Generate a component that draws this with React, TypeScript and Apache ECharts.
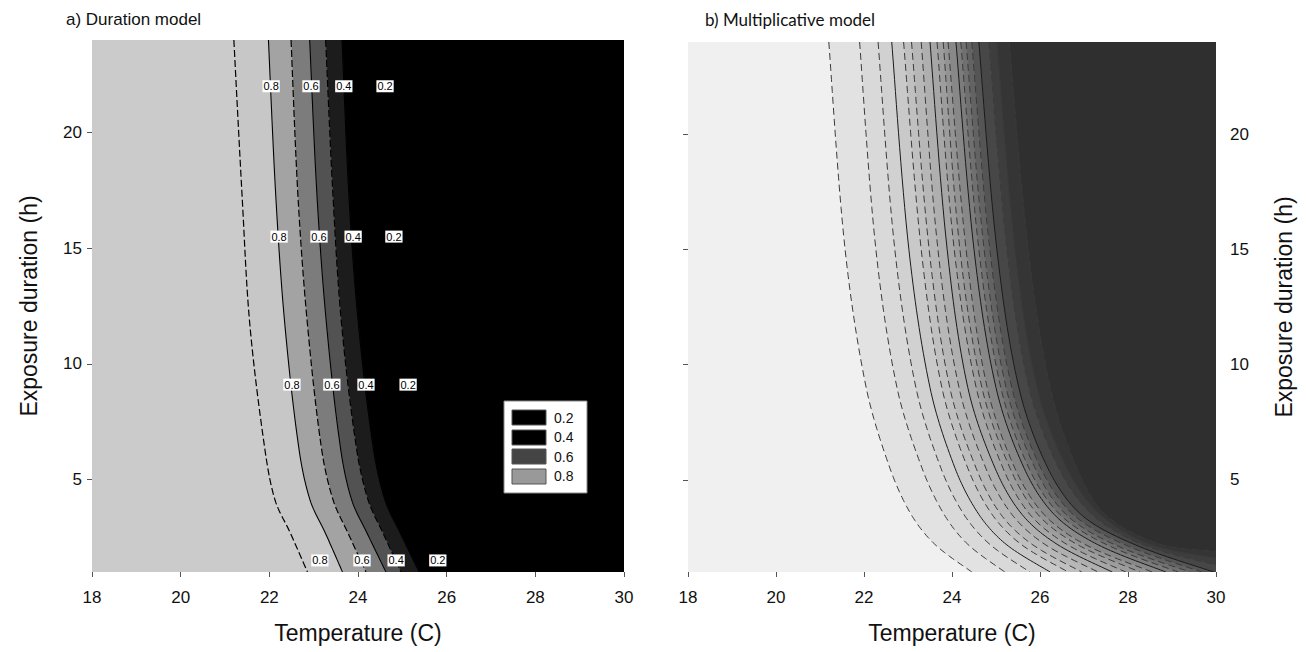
import React, { useEffect, useRef } from "react";
import * as echarts from "echarts";

// ---------- Panel a) Duration model ----------
const hoursA = [24, 17.1, 11.7, 6.3, 4.1, 2.7, 1];
const levelsA = [0.2, 0.3, 0.4, 0.5, 0.6, 0.7, 0.8, 0.9];
const tempA_02 = [24.41, 24.56, 24.77, 25.11, 25.4, 25.74, 26.14];
const tempA_03 = [24.02, 24.18, 24.38, 24.72, 24.99, 25.33, 25.74];
const tempA_04 = [23.64, 23.8, 24.01, 24.35, 24.61, 24.95, 25.38];
const tempA_05 = [23.27, 23.44, 23.63, 23.97, 24.23, 24.56, 24.97];
const tempA_06 = [22.91, 23.08, 23.29, 23.61, 23.86, 24.2, 24.63];
const tempA_07 = [22.49, 22.65, 22.86, 23.18, 23.44, 23.77, 24.18];
const tempA_08 = [21.98, 22.15, 22.35, 22.67, 22.92, 23.26, 23.65];
const tempA_09 = [21.2, 21.39, 21.56, 21.9, 22.13, 22.47, 22.86];
const tempsA = [tempA_02, tempA_03, tempA_04, tempA_05, tempA_06, tempA_07, tempA_08, tempA_09];

const labelRowHours = [22.0, 15.5, 9.1, 1.5];
const labelText = ["0.8", "0.6", "0.4", "0.2"];
const labelTemps = [
  [22.04, 22.94, 23.68, 24.61],
  [22.22, 23.12, 23.89, 24.81],
  [22.51, 23.41, 24.18, 25.13],
  [23.14, 24.09, 24.86, 25.8],
];
const legendLabels = ["0.2", "0.4", "0.6", "0.8"];

// ---------- Panel b) Multiplicative model ----------
const hoursB = [24, 15, 9, 5.5, 3.5, 2.2, 1];
const levelsB = [0.05, 0.1, 0.15, 0.2, 0.25, 0.3, 0.35, 0.4, 0.45, 0.5, 0.55, 0.6, 0.65, 0.7, 0.75, 0.8, 0.85, 0.9, 0.95];
// temperatures of each contour at hoursB; lines that leave through the right edge end at [30, exit hour]
const tempB_005 = [25.3, 25.73, 26.23, 26.84, 27.48, 28.73];
const exitB_005 = 1.9;
const tempB_010 = [25.02, 25.43, 25.93, 26.61, 27.36, 28.5];
const exitB_010 = 1.6;
const tempB_015 = [24.84, 25.25, 25.75, 26.43, 27.18, 28.32];
const exitB_015 = 1.3;
const tempB_020 = [24.61, 25.02, 25.52, 26.18, 26.93, 28.14, 29.95];
const tempB_025 = [24.45, 24.86, 25.36, 26.02, 26.75, 27.91, 29.68];
const tempB_030 = [24.32, 24.73, 25.23, 25.89, 26.59, 27.68, 29.41];
const tempB_035 = [24.2, 24.61, 25.11, 25.75, 26.45, 27.5, 29.14];
const tempB_040 = [24.09, 24.5, 25.0, 25.64, 26.32, 27.3, 28.86];
const tempB_045 = [23.91, 24.32, 24.8, 25.43, 26.09, 27.02, 28.55];
const tempB_050 = [23.8, 24.18, 24.68, 25.32, 25.95, 26.84, 28.27];
const tempB_055 = [23.66, 24.05, 24.55, 25.16, 25.77, 26.61, 27.95];
const tempB_060 = [23.5, 23.89, 24.36, 24.98, 25.59, 26.39, 27.64];
const tempB_065 = [23.3, 23.68, 24.16, 24.77, 25.36, 26.11, 27.32];
const tempB_070 = [23.08, 23.48, 23.95, 24.55, 25.11, 25.82, 26.95];
const tempB_075 = [22.9, 23.3, 23.77, 24.36, 24.91, 25.57, 26.64];
const tempB_080 = [22.63, 23.02, 23.5, 24.07, 24.61, 25.23, 26.23];
const tempB_085 = [22.32, 22.7, 23.18, 23.75, 24.27, 24.86, 25.77];
const tempB_090 = [21.9, 22.27, 22.75, 23.32, 23.82, 24.36, 25.2];
const tempB_095 = [21.2, 21.57, 22.05, 22.59, 23.07, 23.61, 24.45];
const tempsB = [tempB_005, tempB_010, tempB_015, tempB_020, tempB_025, tempB_030, tempB_035, tempB_040, tempB_045, tempB_050, tempB_055, tempB_060, tempB_065, tempB_070, tempB_075, tempB_080, tempB_085, tempB_090, tempB_095];
const exitsB: (number | null)[] = [exitB_005, exitB_010, exitB_015, null, null, null, null, null, null, null, null, null, null, null, null, null, null, null, null];

const yTicks = [5, 10, 15, 20];

// styles
const fillA = ["#000000", "#000000", "#1c1c1c", "#525252", "#7c7c7c", "#a3a3a3", "#c7c7c7", "#cbcbcb"];
const fillB = ["#353535", "#3d3d3d", "#474747", "#555555", "#636363", "#707070", "#7c7c7c", "#888888", "#939393", "#9d9d9d", "#a6a6a6", "#afafaf", "#b7b7b7", "#c0c0c0", "#c9c9c9", "#d1d1d1", "#d9d9d9", "#e2e2e2", "#f0f0f0"];

function buildLine(temps: number[], hours: number[], exit: number | null): number[][] {
  const pts = temps.map((t, i) => [t, hours[i]]);
  if (exit != null) pts.push([30, exit]);
  return pts;
}

const linesA = tempsA.map((t) => buildLine(t, hoursA, null));
const linesB = tempsB.map((t, i) => buildLine(t, hoursB, exitsB[i]));

// rendering helper: smooth curve (cardinal spline with chord-length tangents) through pixel points
function smoothPixels(p: number[][]): number[][] {
  const out: number[][] = [p[0]];
  const dist = (a: number[], b: number[]) => Math.hypot(b[0] - a[0], b[1] - a[1]) || 1;
  for (let i = 0; i < p.length - 1; i++) {
    const p0 = p[i - 1] || p[i];
    const p1 = p[i];
    const p2 = p[i + 1];
    const p3 = p[i + 2] || p2;
    const d01 = i > 0 ? dist(p0, p1) : dist(p1, p2);
    const d12 = dist(p1, p2);
    const d23 = i + 2 < p.length ? dist(p2, p3) : d12;
    const m1 = [(p2[0] - p0[0]) * (d12 / (d01 + d12)), (p2[1] - p0[1]) * (d12 / (d01 + d12))];
    const m2 = [(p3[0] - p1[0]) * (d12 / (d12 + d23)), (p3[1] - p1[1]) * (d12 / (d12 + d23))];
    const c1 = [p1[0] + m1[0] / 3, p1[1] + m1[1] / 3];
    const c2 = [p2[0] - m2[0] / 3, p2[1] - m2[1] / 3];
    const n = 16;
    for (let k = 1; k <= n; k++) {
      const t = k / n;
      const u = 1 - t;
      out.push([
        u * u * u * p1[0] + 3 * u * u * t * c1[0] + 3 * u * t * t * c2[0] + t * t * t * p2[0],
        u * u * u * p1[1] + 3 * u * u * t * c1[1] + 3 * u * t * t * c2[1] + t * t * t * p2[1],
      ]);
    }
  }
  return out;
}

function fillRenderer(lines: number[][][], fills: string[]) {
  return (params: any, api: any) => {
    const line = lines[params.dataIndex];
    const last = line[line.length - 1];
    const curve = smoothPixels(line.map((p) => api.coord(p)));
    const poly = [...curve, api.coord([last[0], 1]), api.coord([18, 1]), api.coord([18, 24])];
    return {
      type: "polygon",
      shape: { points: poly },
      style: { fill: fills[params.dataIndex], stroke: fills[params.dataIndex], lineWidth: 0.6 },
      silent: true,
    };
  };
}

function lineRenderer(lines: number[][][], styleOf: (i: number) => any) {
  return (params: any, api: any) => {
    const line = lines[params.dataIndex];
    const curve = smoothPixels(line.map((p) => api.coord(p)));
    return {
      type: "polyline",
      shape: { points: curve },
      style: { fill: "none", ...styleOf(params.dataIndex) },
      silent: true,
    };
  };
}

const FONT = "'Liberation Sans', Arial, sans-serif";

export default function App() {
  const ref = useRef<HTMLDivElement>(null);
  useEffect(() => {
    if (!ref.current) return;
    const chart = echarts.init(ref.current, null, { renderer: "svg" });

    const axisX = (gi: number) => ({
      type: "value",
      gridIndex: gi,
      min: 18,
      max: 30,
      interval: 2,
      axisLine: { show: false },
      axisTick: { show: true, length: 5, lineStyle: { color: "#555" } },
      axisLabel: { fontSize: 17, color: "#111", fontFamily: FONT, margin: 17 },
      splitLine: { show: false },
      name: "Temperature (C)",
      nameLocation: "middle",
      nameGap: 49,
      nameTextStyle: { fontSize: 23, color: "#111", fontFamily: FONT },
    });

    const labelData: any[] = [];
    labelRowHours.forEach((h, r) => {
      labelTemps[r].forEach((t, c) => labelData.push([t, h, labelText[c]]));
    });

    const styleA = (i: number) => {
      const solid = Math.round(levelsA[i] * 10) % 2 === 0;
      return { stroke: "#000", lineWidth: solid ? 1.1 : 1.2, lineDash: solid ? null : [7, 3] };
    };
    const styleB = (i: number) => {
      const solid = Math.round(levelsB[i] * 100) % 20 === 0;
      return { stroke: solid ? "#1a1a1a" : "#3a3a3a", lineWidth: 1, lineDash: solid ? null : [7, 4] };
    };

    const option: any = {
      animation: false,
      title: [
        { text: "a) Duration model", left: 61, top: 6, textStyle: { fontSize: 17, fontWeight: "normal", color: "#111", fontFamily: FONT } },
        { text: "b) Multiplicative model", left: 700, top: 6, textStyle: { fontSize: 17, fontWeight: "normal", color: "#111", fontFamily: "Lato, 'Open Sans', sans-serif" } },
      ],
      grid: [
        { left: 92, top: 40, width: 532, height: 532, show: true, backgroundColor: "#000", borderWidth: 0 },
        { left: 688, top: 42, width: 528, height: 530, show: true, backgroundColor: "#2f2f2f", borderWidth: 0 },
      ],
      xAxis: [axisX(0), axisX(1)],
      yAxis: [
        {
          type: "value",
          gridIndex: 0,
          min: 1,
          max: 24,
          axisLine: { show: false },
          axisTick: { show: true, length: 5, lineStyle: { color: "#555" }, customValues: yTicks },
          axisLabel: { fontSize: 17, color: "#111", fontFamily: FONT, margin: 10, customValues: yTicks },
          splitLine: { show: false },
          name: "Exposure duration (h)",
          nameLocation: "middle",
          nameGap: 52,
          nameTextStyle: { fontSize: 23, color: "#111", fontFamily: FONT },
        },
        {
          type: "value",
          gridIndex: 1,
          min: 1,
          max: 24,
          position: "left",
          axisLine: { show: false },
          axisTick: { show: true, length: 5, lineStyle: { color: "#555" }, customValues: yTicks },
          axisLabel: { show: false },
          splitLine: { show: false },
        },
        {
          type: "value",
          gridIndex: 1,
          min: 1,
          max: 24,
          position: "right",
          axisLine: { show: false },
          axisTick: { show: false },
          axisLabel: { fontSize: 17, color: "#111", fontFamily: FONT, margin: 14, customValues: yTicks },
          splitLine: { show: false },
          name: "Exposure duration (h)",
          nameLocation: "middle",
          nameRotate: 90,
          nameGap: 56,
          nameTextStyle: { fontSize: 23, color: "#111", fontFamily: FONT },
        },
      ],
      series: [
        { type: "custom", xAxisIndex: 0, yAxisIndex: 0, clip: true, z: 1, data: levelsA.map((v) => [v]), renderItem: fillRenderer(linesA, fillA) },
        { type: "custom", xAxisIndex: 1, yAxisIndex: 1, clip: true, z: 1, data: levelsB.map((v) => [v]), renderItem: fillRenderer(linesB, fillB) },
        { type: "custom", xAxisIndex: 0, yAxisIndex: 0, clip: true, z: 2, data: levelsA.map((v) => [v]), renderItem: lineRenderer(linesA, styleA) },
        { type: "custom", xAxisIndex: 1, yAxisIndex: 1, clip: true, z: 2, data: levelsB.map((v) => [v]), renderItem: lineRenderer(linesB, styleB) },
        {
          type: "custom",
          xAxisIndex: 0,
          yAxisIndex: 0,
          z: 5,
          data: labelData,
          renderItem: (params: any, api: any) => {
            const d = labelData[params.dataIndex];
            const pt = api.coord([d[0], d[1]]);
            return {
              type: "text",
              x: pt[0],
              y: pt[1],
              style: {
                text: d[2],
                fontSize: 11,
                fontFamily: FONT,
                fill: "#000",
                align: "center",
                verticalAlign: "middle",
                backgroundColor: "#fff",
                padding: [1, 1, 0, 1],
              },
              silent: true,
            };
          },
        },
      ],
      graphic: [
        { type: "rect", shape: { x: 504, y: 401, width: 83, height: 92 }, style: { fill: "#fff", stroke: "#888", lineWidth: 1 }, z: 10 },
        ...["#000", "#000", "#444", "#999"].map((c, i) => ({
          type: "rect",
          shape: { x: 512, y: [410, 430, 449, 469][i], width: 34, height: 15 },
          style: { fill: c, stroke: "#555", lineWidth: 1 },
          z: 11,
        })),
        ...legendLabels.map((t, i) => ({
          type: "text",
          x: 554,
          y: [418, 437, 457, 476][i],
          style: { text: t, fontSize: 14, fill: "#111", fontFamily: FONT, verticalAlign: "middle" },
          z: 11,
        })),
      ],
    };
    chart.setOption(option);
    return () => chart.dispose();
  }, []);
  return <div ref={ref} style={{ position: "fixed", left: 0, top: 0, width: 1306, height: 652, background: "#fff" }} />;
}
